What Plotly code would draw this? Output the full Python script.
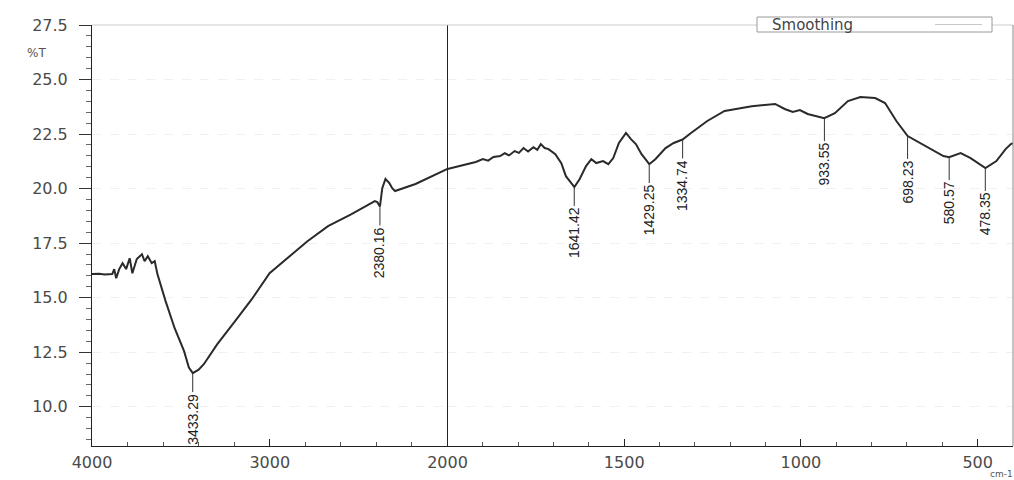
import numpy as np
import plotly.graph_objects as go

# ---- data (FTIR spectrum, %T vs cm-1) ----
wavenumber = [4000, 3960, 3930, 3886, 3875, 3864, 3847, 3828, 3808, 3788, 3773, 3748,
              3719, 3704, 3686, 3664, 3647, 3632, 3586, 3535, 3482, 3455, 3433, 3400,
              3371, 3295, 3195, 3101, 3001, 2903, 2788, 2672, 2540, 2409, 2395, 2380,
              2367, 2349, 2327, 2311, 2295, 2180, 2000,
              1947, 1920, 1900, 1885, 1870, 1851, 1838, 1826, 1810, 1798, 1785, 1772,
              1757, 1746, 1736, 1725, 1714, 1695, 1678, 1665, 1641, 1626, 1608, 1593,
              1579, 1560, 1545, 1531, 1515, 1495, 1481, 1467, 1451, 1429, 1412, 1383,
              1360, 1335, 1311, 1265, 1216, 1139, 1073, 1046, 1023, 1003, 981, 934,
              904, 867, 832, 790, 762, 730, 698, 672, 633, 597, 581, 548, 520, 478,
              447, 421, 406, 400]
transmittance = [16.08, 16.10, 16.06, 16.08, 16.31, 15.89, 16.31, 16.58, 16.31, 16.81, 16.12, 16.77,
                 16.99, 16.67, 16.90, 16.58, 16.67, 16.08, 14.84, 13.60, 12.55, 11.80, 11.54, 11.70,
                 11.95, 12.87, 13.92, 14.93, 16.12, 16.81, 17.59, 18.28, 18.83, 19.43, 19.38, 19.18,
                 20.02, 20.44, 20.25, 20.02, 19.89, 20.21, 20.90,
                 21.12, 21.22, 21.35, 21.28, 21.45, 21.49, 21.62, 21.52, 21.72, 21.64, 21.86, 21.70,
                 21.90, 21.78, 22.04, 21.86, 21.81, 21.58, 21.17, 20.57, 20.07, 20.44, 21.03, 21.35,
                 21.17, 21.26, 21.12, 21.40, 22.09, 22.55, 22.27, 22.04, 21.58, 21.12, 21.35, 21.86,
                 22.09, 22.25, 22.55, 23.10, 23.56, 23.78, 23.88, 23.65, 23.51, 23.60, 23.42, 23.23,
                 23.46, 24.01, 24.20, 24.15, 23.92, 23.10, 22.41, 22.18, 21.81, 21.49, 21.44, 21.63, 21.40, 20.94,
                 21.26, 21.81, 22.04, 22.08]
peak_labels = [3433.29, 2380.16, 1641.42, 1429.25, 1334.74, 933.55, 698.23, 580.57, 478.35]
y_ticks = [10.0, 12.5, 15.0, 17.5, 20.0, 22.5, 25.0, 27.5]
x_ticks_high = [4000, 3000, 2000]
x_ticks_low = [1500, 1000, 500]
series_name = "Smoothing"

# ---- layout geometry (page margin removed below, figure fills the window) ----
W, H = 1014, 480
PW, PH = 921, 421
ML, MT = 92, 25
MR = W - ML - PW
MB = H - MT - PH
split = 355.5 / PW


def px_x(p):
    return (p - ML) / PW


def px_y(p):
    return 1 - (p - MT) / PH


wn = np.array(wavenumber, dtype=float)
T = np.array(transmittance, dtype=float)
hi = wn >= 2000
lo = wn <= 2000

line_style = dict(color="#2a2a2a", width=2)
fig = go.Figure()
fig.add_trace(go.Scatter(x=wn[hi], y=T[hi], mode="lines", line=line_style,
                         name=series_name, showlegend=False, xaxis="x", yaxis="y"))
fig.add_trace(go.Scatter(x=wn[lo], y=T[lo], mode="lines", line=line_style,
                         name=series_name, showlegend=False, xaxis="x2", yaxis="y2"))

tick_font = dict(family="DejaVu Sans, Verdana, sans-serif", size=16, color="#4a4a4a")
axis_line = dict(showline=True, linecolor="#222222", linewidth=1, zeroline=False, automargin=False)

fig.update_layout(
    template="none",
    width=W, height=H, autosize=False,
    margin=dict(l=ML, r=MR, t=MT, b=MB, pad=0, autoexpand=False),
    paper_bgcolor="white", plot_bgcolor="white",
    showlegend=False,
    xaxis=dict(domain=[0, split], range=[4000, 2000], anchor="y",
               tickvals=x_ticks_high, ticktext=[str(v) for v in x_ticks_high],
               ticks="inside", ticklen=7, tickcolor="#222222", showgrid=False,
               minor=dict(tick0=0, dtick=200, ticks="inside", ticklen=4, tickcolor="#555555", showgrid=False),
               tickfont=tick_font, ticklabelstandoff=2, **axis_line),
    xaxis2=dict(domain=[split, 1], range=[2000, 400], anchor="y2",
                tickvals=x_ticks_low, ticktext=[str(v) for v in x_ticks_low],
                ticks="inside", ticklen=7, tickcolor="#222222", showgrid=False,
                minor=dict(tick0=0, dtick=100, ticks="inside", ticklen=4, tickcolor="#555555", showgrid=False),
                tickfont=tick_font, ticklabelstandoff=2, **axis_line),
    yaxis=dict(domain=[0, 1], range=[8.2, 27.5], anchor="x",
               tickvals=y_ticks, ticktext=[f"{v:.1f}" for v in y_ticks],
               ticks="outside", ticklen=12, tickcolor="#333333",
               minor=dict(tick0=0, dtick=0.5, ticks="outside", ticklen=5, tickcolor="#666666", showgrid=False),
               showgrid=True, gridcolor="#f0f0f0", griddash="dash",
               tickfont=tick_font, ticklabelstandoff=8, **axis_line),
    yaxis2=dict(domain=[0, 1], range=[8.2, 27.5], anchor="x2", matches="y",
                tickvals=y_ticks, showticklabels=False, ticks="",
                showgrid=True, gridcolor="#f0f0f0", griddash="dash", **axis_line),
)

# frame lines (top and right)
fig.add_shape(type="line", xref="paper", yref="paper", x0=0, x1=1, y0=1, y1=1,
              line=dict(color="#cccccc", width=1))
fig.add_shape(type="line", xref="paper", yref="paper", x0=1, x1=1, y0=0, y1=1,
              line=dict(color="#888888", width=1))

# legend box (text on the left, sample on the right)
fig.add_shape(type="rect", xref="paper", yref="paper",
              x0=px_x(757), x1=px_x(992), y0=px_y(32), y1=px_y(17),
              line=dict(color="#9a9a9a", width=1), fillcolor="white", layer="above")
fig.add_shape(type="line", xref="paper", yref="paper",
              x0=px_x(935), x1=px_x(982), y0=px_y(24.5), y1=px_y(24.5),
              line=dict(color="#c8c8c8", width=1), layer="above")
fig.add_annotation(text=series_name, xref="paper", yref="paper",
                   x=px_x(770), y=px_y(25), xanchor="left", yanchor="middle",
                   showarrow=False, font=dict(family="DejaVu Sans, sans-serif", size=15, color="#444444"))

# axis unit labels
fig.add_annotation(text="%T", xref="paper", yref="paper", x=px_x(36), y=px_y(53),
                   xanchor="center", yanchor="middle", showarrow=False,
                   font=dict(family="DejaVu Sans, sans-serif", size=12, color="#555555"))
fig.add_annotation(text="cm-1", xref="paper", yref="paper", x=px_x(1014), y=px_y(480),
                   xanchor="right", yanchor="bottom", showarrow=False, borderpad=0,
                   font=dict(family="DejaVu Sans, sans-serif", size=9, color="#555555"))

# peak labels
order = np.argsort(wn)
for p in peak_labels:
    yv = float(np.interp(p, wn[order], T[order]))
    upper = p > 2000
    fig.add_annotation(
        x=p, y=yv, xref="x" if upper else "x2", yref="y" if upper else "y2",
        text=f"{p:.2f}", textangle=-90, showarrow=True, arrowhead=0,
        arrowwidth=1, arrowcolor="#333333", ax=0, ay=46, standoff=0,
        font=dict(family="Liberation Sans Narrow, Liberation Sans, Arial, sans-serif", size=14, color="#222222"),
    )

fig.write_html(
    "out.html",
    config={"displayModeBar": False, "responsive": False},
    post_script=(
        "document.documentElement.style.overflow='hidden';"
        "document.body.style.margin='0';"
        "document.body.style.overflow='hidden';"
    ),
)
